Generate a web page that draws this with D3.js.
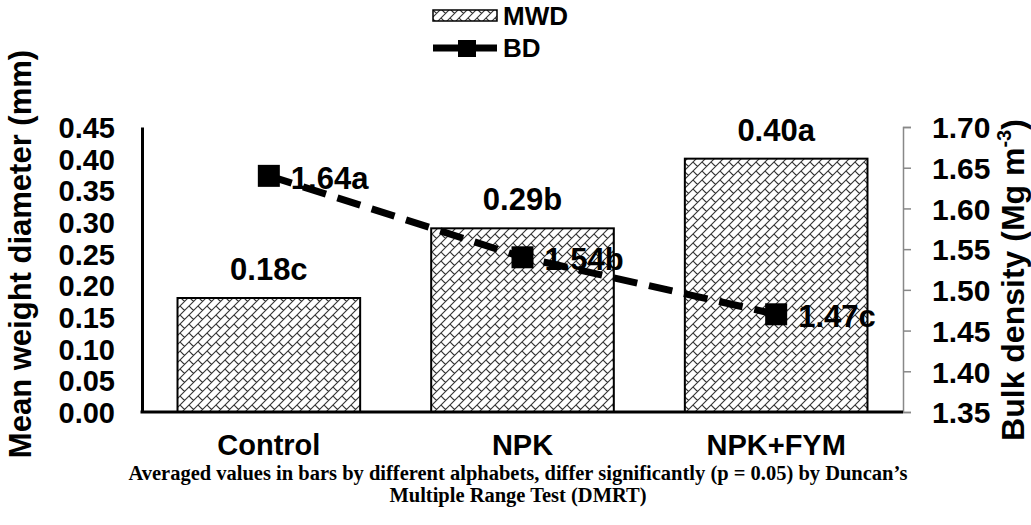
<!DOCTYPE html>
<html><head><meta charset="utf-8">
<script src="https://cdn.jsdelivr.net/npm/d3@7"></script>
<style>body{margin:0;background:#fff}svg{display:block}</style>
</head><body>
<script>
const categories = ["Control", "NPK", "NPK+FYM"];
const mwd = [0.18, 0.29, 0.40];
const mwdLabels = ["0.18c", "0.29b", "0.40a"];
const bd = [1.64, 1.54, 1.47];
const bdLabels = ["1.64a", "1.54b", "1.47c"];
const leftTicks = [0, 0.05, 0.10, 0.15, 0.20, 0.25, 0.30, 0.35, 0.40, 0.45];
const rightTicks = [1.35, 1.40, 1.45, 1.50, 1.55, 1.60, 1.65, 1.70];

const W = 1031, H = 525;
const L = 142, R = 903, T = 127, B = 412;
const svg = d3.select("body").append("svg").attr("width", W).attr("height", H);
const defs = svg.append("defs");
const pat = defs.append("pattern").attr("id", "brick").attr("patternUnits", "userSpaceOnUse")
  .attr("width", 9).attr("height", 9);
pat.append("rect").attr("width", 9).attr("height", 9).attr("fill", "#fff");
pat.append("path").attr("d", "M-1,10 L10,-1 M-1,1 L1,-1 M8,10 L10,8 M0,0 L4.5,4.5")
  .attr("stroke", "#333").attr("stroke-width", 1.1).attr("fill", "none");

const x = d3.scaleBand().domain(categories).range([L, R]).paddingInner(0.28).paddingOuter(0.14);
const yL = d3.scaleLinear().domain([0, 0.45]).range([B, T]);
const yR = d3.scaleLinear().domain([1.35, 1.70]).range([B, T]);
const font = "Arial, 'Liberation Sans', sans-serif";

// bars
svg.selectAll("rect.bar").data(categories).join("rect").attr("class", "bar")
  .attr("x", d => x(d)).attr("width", x.bandwidth())
  .attr("y", (d, i) => yL(mwd[i])).attr("height", (d, i) => B - yL(mwd[i]))
  .attr("fill", "url(#brick)").attr("stroke", "#000").attr("stroke-width", 2);

svg.selectAll("text.bl").data(categories).join("text").attr("class", "bl")
  .attr("x", d => x(d) + x.bandwidth() / 2).attr("y", (d, i) => yL(mwd[i]) - 18)
  .attr("text-anchor", "middle").attr("font-family", font).attr("font-weight", "bold")
  .attr("font-size", 31).text((d, i) => mwdLabels[i]);

// left axis
const gL = svg.append("g").attr("transform", `translate(${L},0)`)
  .call(d3.axisLeft(yL).tickValues(leftTicks).tickFormat(d3.format(".2f")).tickSize(0).tickPadding(27));
gL.select(".domain").attr("stroke", "#000").attr("stroke-width", 3);
gL.selectAll("text").attr("font-family", font).attr("font-weight", "bold").attr("font-size", 29).attr("fill", "#000").attr("dy", "0.36em");

// right axis
const gR = svg.append("g").attr("transform", `translate(${R},0)`)
  .call(d3.axisRight(yR).tickValues(rightTicks).tickFormat(d3.format(".2f")).tickSize(8).tickSizeOuter(8).tickPadding(21));
gR.select(".domain").attr("stroke", "#888").attr("stroke-width", 1.5);
gR.selectAll("line").attr("stroke", "#888").attr("stroke-width", 1.5);
gR.selectAll("text").attr("font-family", font).attr("font-weight", "bold").attr("font-size", 30).attr("fill", "#000").attr("dy", "0.36em");

// bottom axis
svg.append("line").attr("x1", L - 1.5).attr("x2", R).attr("y1", B).attr("y2", B).attr("stroke", "#000").attr("stroke-width", 3);
svg.selectAll("text.cat").data(categories).join("text").attr("class", "cat")
  .attr("x", d => x(d) + x.bandwidth() / 2).attr("y", 455)
  .attr("text-anchor", "middle").attr("font-family", font).attr("font-weight", "bold")
  .attr("font-size", 29).text(d => d);

// line
const cx = d => x(d) + x.bandwidth() / 2;
const line = d3.line().x(d => cx(d)).y((d, i) => yR(bd[i]));
svg.append("path").datum(categories).attr("d", line).attr("fill", "none")
  .attr("stroke", "#000").attr("stroke-width", 7).attr("stroke-dasharray", "24,12");
svg.selectAll("rect.mk").data(categories).join("rect").attr("class", "mk")
  .attr("x", d => cx(d) - 11).attr("y", (d, i) => yR(bd[i]) - 11)
  .attr("width", 22).attr("height", 22).attr("fill", "#000");
svg.selectAll("text.ll").data(categories).join("text").attr("class", "ll")
  .attr("x", d => cx(d) + 22).attr("y", (d, i) => yR(bd[i]) + 13)
  .attr("font-family", font).attr("font-weight", "bold")
  .attr("font-size", 31).text((d, i) => bdLabels[i]);

// axis titles
svg.append("text").attr("transform", `translate(31,254) rotate(-90)`)
  .attr("text-anchor", "middle").attr("font-family", font).attr("font-weight", "bold")
  .attr("font-size", 31).text("Mean weight diameter (mm)");
const rt = svg.append("text").attr("transform", `translate(1024,280) rotate(-90)`)
  .attr("text-anchor", "middle").attr("font-family", font).attr("font-weight", "bold")
  .attr("font-size", 32);
rt.append("tspan").text("Bulk density (Mg m");
rt.append("tspan").attr("font-size", 20).attr("dy", -13).text("-3");
rt.append("tspan").attr("dy", 13).text(")");

// legend
svg.append("rect").attr("x", 433).attr("y", 10).attr("width", 64).attr("height", 11)
  .attr("fill", "url(#brick)").attr("stroke", "#000").attr("stroke-width", 1.5);
svg.append("text").attr("x", 503).attr("y", 25).attr("font-family", font).attr("font-weight", "bold")
  .attr("font-size", 26).text("MWD");
svg.append("line").attr("x1", 433).attr("x2", 497).attr("y1", 48).attr("y2", 48)
  .attr("stroke", "#000").attr("stroke-width", 7);
svg.append("rect").attr("x", 458).attr("y", 40).attr("width", 18).attr("height", 17).attr("fill", "#000");
svg.append("text").attr("x", 503).attr("y", 57).attr("font-family", font).attr("font-weight", "bold")
  .attr("font-size", 26).text("BD");

// caption
const cap = ["Averaged values in bars by different alphabets, differ significantly (p = 0.05) by Duncan\u2019s", "Multiple Range Test (DMRT)"];
svg.selectAll("text.cap").data(cap).join("text").attr("class", "cap")
  .attr("x", 518).attr("y", (d, i) => 480 + i * 22).attr("text-anchor", "middle")
  .attr("font-family", "'Liberation Serif', 'Times New Roman', serif").attr("font-weight", "bold")
  .attr("font-size", 20.5).text(d => d);
</script>
</body></html>
